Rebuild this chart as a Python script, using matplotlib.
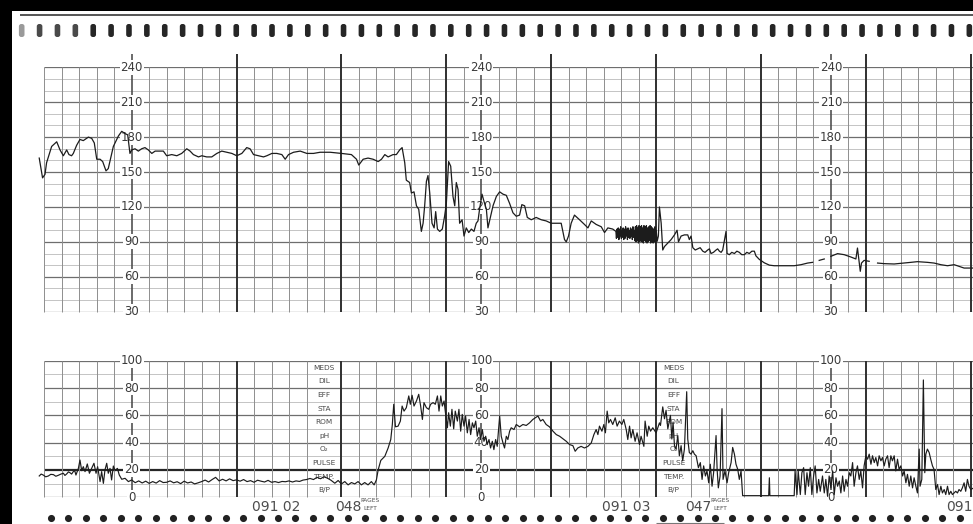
import numpy as np
import matplotlib
matplotlib.use("Agg")
import matplotlib.pyplot as plt
from matplotlib.patches import Rectangle, FancyBboxPatch

# ---------------------------------------------------------------------------
# Strip data.  Time runs in seconds along the paper (one small square = 10 s).
# ---------------------------------------------------------------------------
fhr_t = [
    7.1, 9.0, 10.4, 11.3, 14.2, 17.1, 19.0, 20.9, 22.8, 24.1, 25.6, 26.6, 28.5,
    30.4, 32.3, 35.2, 37.1, 38.6, 40.0, 41.9, 43.4, 45.3, 46.6, 49.5, 52.4, 54.3,
    56.2, 57.7, 59.0, 60.0, 61.9, 63.8, 65.7, 67.6, 69.5, 71.5, 73.4, 76.2, 78.1,
    80.0, 82.9, 85.8, 88.6, 91.5, 93.4, 95.3, 98.2, 100.1, 102.9, 105.8, 108.7,
    111.5, 114.4, 117.3, 120.1, 123.0, 125.8, 127.7, 129.7, 132.5, 135.4, 137.3,
    140.2, 143.0, 145.9, 147.8, 149.7, 152.6, 156.4, 160.2, 164.0, 167.8, 173.5,
    180.0, 185.7, 188.6, 189.9, 192.4, 195.2, 198.1, 201.0, 202.9, 204.8, 206.7,
    209.5, 211.4, 213.3, 214.7, 216.2, 217.1, 219.0, 220.0, 221.5, 222.9, 224.2,
    225.7, 226.7, 227.6, 228.6, 229.5, 230.5, 231.8, 233.0, 233.9, 234.9, 236.2,
    237.7, 239.0, 240.0, 241.3, 242.5, 243.8, 244.8, 245.7, 246.7, 247.6, 249.0,
    250.1, 251.4, 252.8, 254.3, 255.8, 257.1, 258.1, 259.0, 260.4, 261.5, 262.9,
    263.8, 265.3, 266.7, 268.6, 270.5, 272.4, 274.3, 276.2, 278.1, 280.0, 281.9,
    283.2, 284.8, 286.3, 288.6, 291.4, 294.3, 297.1, 300.0, 302.9, 305.7, 307.6,
    308.6, 309.9, 311.4, 313.3, 316.2, 319.0, 321.0, 322.9, 325.7, 328.6, 330.5,
    332.4, 335.2, 337.0,
    337.3, 337.65, 338.0, 338.35, 338.7, 339.05, 339.4, 339.75, 340.1, 340.45,
    340.8, 341.15, 341.5, 341.85, 342.2, 342.55, 342.9, 343.25, 343.6, 343.95,
    344.3, 344.65, 345.0, 345.35, 345.7, 346.05, 346.4, 346.75, 347.1, 347.45,
    347.8, 348.15, 348.5, 348.85, 349.2, 349.55, 349.9, 350.25, 350.6, 350.95,
    351.3, 351.65, 352.0, 352.35, 352.7, 353.05, 353.4, 353.75, 354.1, 354.45,
    354.8, 355.15, 355.5, 355.85, 356.2, 356.55, 356.9, 357.25, 357.6, 357.95,
    358.3, 358.65, 359.0, 359.35, 359.7, 360.05,
    360.6, 361.3, 361.9, 362.9, 363.8, 364.8, 366.7, 368.6, 370.5, 372.0, 372.8,
    374.3, 376.2, 378.1, 379.0, 380.0, 381.0, 382.4, 383.8, 385.2, 386.7, 388.0,
    389.5, 390.5, 391.4, 392.8, 394.3, 395.2, 396.2, 397.2, 398.1, 400.0, 400.6,
    401.9, 403.3, 404.8, 406.2, 407.6, 409.0, 410.5, 411.9, 413.3, 414.8, 416.2,
    417.1, 419.0, 421.9, 424.8, 427.6, 431.4, 435.2, 439.0, 442.9, 446.7, 449.5,
    451.4, 453.3, 456.2, 458.0, 460.0, 463.8, 467.6, 471.4, 474.3, 475.2, 476.8,
    477.5, 479.0, 481.9, 484.0, 486.7, 490.5, 496.2, 501.9, 505.7, 509.5, 515.2,
    519.0, 522.9, 526.7, 530.5, 533.3, 536.2, 541.7,
]
fhr_bpm = [
    162, 145, 148, 158, 172, 176, 169, 164, 169, 165, 164, 166, 173,
    178, 177, 180, 179, 175, 161, 161, 159, 151, 153, 172, 181, 185,
    183, 182, 166, 169, 170, 168, 170, 171, 169, 166, 168, 168, 168,
    164, 165, 164, 166, 170, 168, 165, 163, 164, 163, 163, 166,
    168, 167, 166, 164, 166, 171, 170, 165, 164, 163, 164,
    166, 166, 165, 161, 165, 167, 168, 166, 166, 167, 167,
    166, 165, 161, 156, 161, 162, 161, 159, 161, 165, 163,
    165, 165, 169, 171, 158, 143, 141, 132, 133, 121, 118,
    99, 106, 121, 142, 147, 132, 106, 102, 116, 101, 99,
    101, 112, 123, 159, 155, 129, 121, 141, 135, 106, 109,
    95, 102, 98, 101, 99, 106, 108, 118, 131, 125, 118,
    102, 112, 121, 129, 133, 131, 130, 123, 115, 112, 113,
    122, 121, 111, 109, 111, 109, 108, 106, 106, 106, 92,
    90, 95, 106, 113, 109, 105, 102, 108, 105, 103, 98,
    102, 101, 99,
    93, 101, 94, 102, 92, 101, 95, 103, 93, 100,
    94, 102, 92, 101, 93, 103, 95, 101, 92, 102,
    94, 100, 93, 102, 95, 101, 92, 103, 94, 100,
    91, 103, 90, 104, 91, 102, 89, 104, 90, 103,
    91, 104, 90, 102, 89, 104, 91, 103, 90, 104,
    89, 102, 90, 103, 91, 104, 89, 103, 90, 102,
    89, 101, 90, 103, 89, 100,
    90.5, 95, 120, 106, 83, 86, 89, 92, 96, 100, 90,
    95, 96, 96, 92, 95, 85, 83, 84, 85, 82, 81,
    83, 84, 80, 81, 83, 84, 82, 81, 83, 99, 80,
    79, 81, 80, 82, 81, 79, 79, 81, 80, 82, 82,
    78, 75, 72, 70, 69.5, 69.5, 69.5, 69.5, 70.4, 71.8, 72.4,
    np.nan, 74.1, 75.3, np.nan, 77.6, 79.9, 79, 77, 75.3, 84.7, 64.7,
    71.8, 74.1, 73.3, np.nan, 71.8, 71.3, 71, 71.8, 72.4, 73, 72.4,
    71.8, 70.4, 69.5, 70.4, 69, 67.5, 67.5,
]

uc_t = [
    7.1, 8.2, 9.4, 10.8, 12.3, 13.7, 15.2, 16.6, 18.0, 19.5, 20.9, 21.8, 22.8,
    23.8, 24.7, 25.6, 26.6, 27.4, 28.1, 29.5, 30.4, 31.4, 32.3, 33.3, 34.6, 35.8,
    37.1, 38.4, 39.6, 40.5, 41.9, 42.8, 43.8, 44.7, 45.7, 46.6, 47.6, 48.5, 49.5,
    50.5, 51.8, 52.9, 54.3, 56.2, 58.1, 60.0,
    62, 64, 66, 68, 70, 72, 74, 76, 78, 80, 82, 84, 86, 88, 90, 92, 94, 96, 98,
    100, 102, 104, 106, 108, 110, 112, 114, 116, 118, 120, 122, 124, 126, 128,
    130, 132, 134, 136, 138, 140, 142, 144, 146, 148, 150, 152, 154, 156, 158,
    160, 162, 164, 166, 168, 170, 172, 174,
    176.2, 178.1, 180.0, 181.9, 183.8, 185.7, 187.6, 189.5, 191.4, 193.3, 195.2,
    197.1, 198.7, 200.0, 201.0, 202.5, 204.8, 206.7, 208.2, 209.1, 209.9, 210.9,
    212.4, 213.7, 214.7, 215.8, 217.1, 218.5, 219.4, 220.4, 221.5, 222.9, 224.2,
    225.3, 226.3, 227.2, 228.6, 229.9, 231.0, 232.4, 233.7, 234.9, 235.8, 236.8,
    237.7, 238.7, 239.6, 240.6, 241.3, 242.3, 243.2, 244.2, 245.1, 246.3, 247.2,
    248.2, 249.1, 250.1, 251.0, 252.0, 253.0, 253.9, 254.9, 255.8, 256.8, 257.7,
    258.7, 259.6, 260.6, 261.5, 262.5, 263.4, 264.4, 265.3, 266.3, 267.2, 268.2,
    269.1, 270.5, 271.4, 272.4, 273.3, 274.3, 275.2, 276.2, 277.1, 278.7, 280.0,
    281.9, 283.8, 285.7, 287.6, 289.5, 290.9, 292.4, 293.9, 295.2, 297.1, 299.0,
    301.0, 302.9, 304.8, 306.7, 308.6, 310.5, 312.4, 313.7, 315.2, 317.1, 319.0,
    321.0, 322.9, 324.4, 325.7, 326.7, 327.6, 329.0, 330.1, 331.0, 332.0, 332.9,
    333.9, 335.2, 336.6, 337.7, 339.0, 340.4, 341.5, 342.9, 343.8, 344.8, 345.7,
    346.7, 348.0, 349.1, 350.5, 351.4, 353.0, 353.7, 354.9, 355.8, 356.8, 358.1,
    360.0, 361.9,
    362.5, 363.8, 364.8, 365.7, 366.7, 368.2, 369.0, 369.7, 370.5, 371.4, 372.4,
    373.3, 374.3, 375.2, 376.2, 377.5, 378.1, 379.0, 380.0, 381.0, 381.9, 382.9,
    384.2, 385.3, 386.3, 387.2, 388.2, 389.1, 390.1, 391.0, 392.0, 392.9, 394.3,
    394.9, 395.6, 396.6, 397.7, 398.3, 399.4, 400.6, 401.5, 402.9, 403.8, 404.8,
    405.7, 406.7, 407.6, 408.6, 409.5, 424.4, 424.8, 425.1, 439.0, 439.5, 440.6,
    441.3, 442.5, 443.4, 444.4, 445.3, 446.3, 447.2, 448.2, 449.1, 450.1, 451.0,
    452.0, 453.0, 453.9, 455.2, 456.2, 457.1, 458.1, 459.0, 460.0, 461.0, 461.9,
    462.9, 463.8, 464.8, 465.7, 466.7, 467.6, 468.6, 469.5, 470.5, 471.4, 472.4,
    473.3, 474.3, 475.2, 476.2, 477.1, 478.1, 479.0, 480.0, 481.0, 481.9, 482.9,
    483.8, 484.8, 485.7, 486.7, 487.6, 488.6, 489.5, 490.5, 491.4, 492.4, 493.3,
    494.3, 495.2, 496.2, 497.1, 498.1, 499.0, 500.0, 501.0, 501.9, 502.9, 503.8,
    504.8, 505.7, 506.7, 507.6, 508.6, 509.5, 510.5, 511.0, 512.0, 512.9, 513.7,
    514.3, 515.2, 516.2, 517.1, 518.1, 519.0, 520.0, 521.0, 521.9, 522.9, 523.8,
    524.8, 525.7, 526.7, 527.6, 528.6, 529.5, 530.5, 531.4, 532.4, 533.3, 534.3,
    535.2, 536.2, 537.1, 538.1, 539.0, 540.0, 541.7,
]
uc_mmhg = [
    15.6, 17.0, 16.3, 15.0, 15.6, 16.8, 16.6, 15.4, 16.1, 17.0, 17.6, 16.0, 17.1,
    18.6, 18.0, 17.0, 18.8, 19.5, 16.3, 21.2, 27.3, 19.5, 22.4, 18.8, 24.4, 17.6,
    21.2, 24.9, 17.6, 22.4, 11.5, 18.8, 10.2, 20.0, 24.9, 17.6, 21.2, 12.7, 22.9,
    19.5, 21.2, 16.3, 13.2, 13.9, 11.5, 12.7,
    10.7, 12.0, 10.5, 11.8, 10.2, 11.5, 10.4, 12.2, 10.8, 11.0, 12.0, 10.6, 11.4,
    10.0, 11.8, 10.5, 11.2, 9.8, 10.6,
    11.5, 12.6, 11.2, 13.0, 14.6, 12.0, 13.2, 12.0, 13.5, 12.2, 12.8, 11.8, 13.0,
    11.5, 12.2,
    11.0, 12.5, 11.8, 11.2, 12.4, 11.0, 11.5, 10.8, 11.6, 11.4, 12.0, 11.2, 12.0,
    11.6, 12.6,
    13.0, 13.8, 13.0, 14.6, 13.6, 15.0, 14.0, 12.5,
    10.3, 12.3, 9.8, 11.5, 9.1, 10.8, 9.8, 11.5, 9.1, 10.8, 9.1,
    11.5, 9.1, 12.8, 20.1, 27.0, 30.0, 36.1, 42.3, 53.3, 68.1, 51.6,
    52.1, 55.8, 66.8, 63.1, 65.6, 74.2, 68.1, 74.7, 66.8, 70.5, 75.4,
    66.8, 57.0, 69.3, 65.6, 64.4, 68.1, 69.3, 68.1, 74.2, 63.1, 74.2,
    66.8, 70.5, 60.7, 50.9, 61.9, 52.1, 64.4, 50.1, 63.1, 55.8, 64.4,
    48.4, 60.7, 52.1, 59.5, 47.2, 57.0, 45.9, 54.5, 50.9, 55.8, 44.7,
    50.9, 42.3, 49.6, 41.0, 44.7, 38.6, 42.3, 36.1, 41.0, 34.9, 42.3,
    37.3, 59.5, 44.7, 39.8, 36.1, 44.7, 42.3, 48.4, 50.9, 49.6, 53.3,
    51.6, 53.3, 52.6, 54.5, 57.0, 58.2, 59.5, 55.8, 57.0, 53.3, 51.6,
    48.4, 45.9, 44.7, 42.8, 41.0, 38.6, 37.8, 33.7, 36.1, 37.3, 36.1,
    37.3, 39.8, 45.9, 49.6, 45.9, 52.1, 48.4, 53.3, 47.2, 63.1, 54.5,
    57.0, 53.3, 58.2, 52.1, 55.8, 53.3, 57.0, 49.6, 42.3, 52.1, 43.5,
    49.6, 41.0, 47.2, 38.6, 44.7, 37.3, 55.8, 44.7, 52.1, 48.4, 50.9,
    47.2, 54.5,
    52.6, 66.2, 57.5, 63.7, 50.1, 60.0, 42.7, 55.1, 37.8, 35.3, 45.2,
    30.4, 37.8, 26.7, 35.3, 77.3, 42.7, 32.8, 31.6, 34.1, 31.6, 30.4,
    21.7, 25.4, 13.1, 23.0, 15.6, 19.3, 10.6, 24.2, 8.1, 18.0, 45.2,
    20.5, 6.9, 15.6, 64.9, 13.1, 19.3, 10.6, 18.0, 25.4, 36.5, 31.6,
    24.2, 20.5, 13.1, 19.3, 1.2, 1.2, 14.3, 1.2, 1.2, 19.3, 2.0,
    19.3, 2.0, 18.0, 21.7, 2.0, 18.0, 8.1, 21.7, 2.0, 15.6, 23.0,
    3.2, 13.1, 4.4, 15.6, 3.2, 13.1, 0.7, 15.6, 6.9, 19.3, 2.0,
    14.3, 8.1, 11.9, 3.2, 15.6, 4.4, 13.1, 8.1, 18.0, 15.6, 25.4,
    8.1, 18.0, 23.0, 13.1, 19.3, 6.9, 23.0, 30.4, 27.9, 31.6, 24.2,
    30.4, 25.4, 29.1, 23.0, 30.4, 26.7, 29.1, 23.0, 27.9, 30.4, 21.7,
    30.4, 26.7, 30.4, 19.3, 27.9, 20.5, 23.0, 15.6, 19.3, 10.6, 16.8,
    8.1, 15.6, 6.9, 14.3, 8.1, 3.2, 35.3, 8.1, 13.1, 85.9, 18.0,
    31.6, 35.3, 32.8, 27.9, 23.0, 20.5, 5.7, 9.4, 2.0, 8.1, 3.2,
    5.7, 2.0, 8.1, 2.0, 4.4, 2.0, 3.2, 4.4, 3.2, 5.7, 4.4,
    6.9, 10.6, 4.4, 13.1, 8.1, 5.7, 6.9,
]
assert len(fhr_t) == len(fhr_bpm) and len(uc_t) == len(uc_mmhg)

fhr_ticks = [30, 60, 90, 120, 150, 180, 210, 240]
uc_ticks = [0, 20, 40, 60, 80, 100]
scale_times = [60, 260, 460]
notes_rows = ["MEDS", "DIL", "EFF", "STA", "ROM", "pH", "O₂", "PULSE", "TEMP.", "B/P"]
notes_times = [170, 370]
stamp_texts = ["091 02", "091 03", "091"]
stamp_times = [128.8, 329.1, 525.9]
pages_texts = ["048", "047"]
pages_times = [176.3, 376.5]

# ---------------------------------------------------------------------------
# Paper geometry
# ---------------------------------------------------------------------------
W, H = 973, 524
T_LEFT, T_RIGHT = -8.48, 541.29     # strip time at the left / right border
GRID_START = 10

fig = plt.figure(figsize=(W / 100, H / 100), dpi=100)
fig.patch.set_facecolor("white")

x0 = 12 / W
ax_f = fig.add_axes([x0, 1 - 311.7 / H, 1 - x0, (311.7 - 67.3) / H])
ax_u = fig.add_axes([x0, 1 - 497.3 / H, 1 - x0, (497.3 - 360.7) / H])
for ax in (ax_f, ax_u):
    ax.set_xlim(T_LEFT, T_RIGHT)
    ax.axis("off")
ax_f.set_ylim(30, 240)
ax_u.set_ylim(0, 100)

grid_times = np.arange(GRID_START, 541, 10)


def draw_grid(ax, lo, hi, major_every, heavy=None, skip=(), top_ext=0):
    for v in np.arange(lo, hi + 0.01, 10):
        if heavy is not None and v == heavy:
            c, lw = "#262626", 1.6
        elif (v - lo) % major_every == 0:
            c, lw = "#6e6e6e", 0.9
        else:
            c, lw = "#b4b4b4", 0.55
        ax.hlines(v, GRID_START, T_RIGHT, colors=c, lw=lw, zorder=1)
    for t in grid_times:
        if t in skip:
            continue
        if t in scale_times:
            c, lw = "#4a4a4a", 1.15
        elif t % 60 == 0:
            c, lw = "#2f2f2f", 1.4
        else:
            c, lw = "#8e8e8e", 0.7
        top = hi + (top_ext if (t % 60 == 0 or t in scale_times) else 0)
        ax.vlines(t, lo, top, colors=c, lw=lw, zorder=1, clip_on=False)
    for t in scale_times:
        if t not in grid_times:
            ax.vlines(t, lo, hi + top_ext, colors="#4a4a4a", lw=1.15,
                      zorder=1, clip_on=False)


draw_grid(ax_f, 30, 240, 30, top_ext=11)
draw_grid(ax_u, 0, 100, 20, heavy=20, skip=notes_times)

# printed scales
lab_kw = dict(ha="center", va="center", fontsize=8.5, color="#3a3a3a",
              zorder=3, clip_on=False,
              bbox=dict(facecolor="white", edgecolor="none", pad=0.7))
for t in scale_times:
    for v in fhr_ticks:
        ax_f.text(t, v, str(v), **lab_kw)
    for v in uc_ticks:
        ax_u.text(t, v, str(v), **lab_kw)

# notes column
for t in notes_times:
    for i, name in enumerate(notes_rows):
        ax_u.text(t, 95 - 10 * i, name, ha="center", va="center",
                  fontsize=5.3, color="#4a4a4a", zorder=2)

# traces
ax_f.plot(fhr_t, fhr_bpm, color="#1c1c1c", lw=0.9, zorder=4)
ax_u.plot(uc_t, uc_mmhg, color="#1c1c1c", lw=0.85, zorder=4)

# time stamps and page counters below the strip
for s, t in zip(stamp_texts, stamp_times):
    ax_u.text(t, -7.3, s, ha="left", va="center", fontsize=10,
              color="#4d4d4d", clip_on=False)
for s, t in zip(pages_texts, pages_times):
    ax_u.text(t, -7.3, s, ha="left", va="center", fontsize=10,
              color="#4d4d4d", clip_on=False)
    ax_u.text(t + 20, -2.6, "PAGES", ha="center", va="center", fontsize=4.2,
              color="#4d4d4d", clip_on=False)
    ax_u.text(t + 20, -7.9, "LEFT", ha="center", va="center", fontsize=4.2,
              color="#4d4d4d", clip_on=False)

# bottom feed perforations
dot_t = np.arange(13.7, T_RIGHT, 10)
ax_u.plot(dot_t, np.full(dot_t.shape, -15.2), ls="none", marker="o",
          ms=4.1, color="#222222", clip_on=False)
ax_u.hlines(-18.7, 360, 399, colors="#777777", lw=0.8, clip_on=False)

# paper edge: top rule, sprocket holes, dark scanner borders
deco = fig.add_axes([0, 0, 1, 1], zorder=10)
deco.set_xlim(0, W)
deco.set_ylim(H, 0)
deco.axis("off")
deco.hlines(15.3, 20, W, colors="#555555", lw=1.4)
for i, hx in enumerate(np.arange(21.7, W - 3, 17.88)):
    fc = "#9a9a9a" if i == 0 else ("#4a4a4a" if i < 4 else "#262626")
    deco.add_patch(FancyBboxPatch((hx - 2.8, 24), 5.6, 13,
                                  boxstyle="round,pad=0,rounding_size=2.4",
                                  fc=fc, ec="none"))
deco.add_patch(Rectangle((0, 0), W, 11, fc="black", ec="none"))
deco.add_patch(Rectangle((0, 0), 12, H, fc="black", ec="none"))

fig.savefig("out.png", dpi=100, facecolor="white")
